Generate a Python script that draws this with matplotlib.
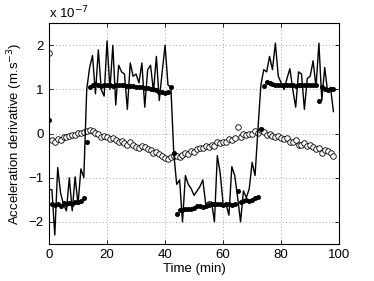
import numpy as np
import matplotlib
matplotlib.use("Agg")
import matplotlib.pyplot as plt

# time in minutes (one sample per minute)
time_min = list(range(99))

# noisy derivative (line), units of 1e-7 m.s^-3
raw = [-1.27, -1.27, -2.3, -0.77, -1.35, -1.6, -1.75, -1.0, -1.75, -0.98,
       -1.6, -0.8, -1.0, 1.0, 1.5, 1.77, 0.9, 1.9, 1.0, 0.85,
       2.1, 1.0, 2.0, 0.65, 1.55, 1.4, 1.35, 0.55, 1.6, 1.3,
       1.35, 1.15, 1.6, 0.6, 1.45, 1.55, 0.95, 1.75, 0.75, 1.4,
       2.0, 1.1, 1.05, -0.45, -1.15, -1.05, -2.0, -0.95, -1.15, -1.25,
       -1.4, -1.3, -1.2, -1.05, -1.6, -1.55, -1.55, -2.0, -0.5, -0.9,
       -1.6, -1.6, -1.85, -0.75, -0.95, -1.45, -2.0, -1.3, -1.45, -1.25,
       -0.65, -0.95, 0.1, 1.1, 1.45, 1.4, 1.75, 1.45, 2.05, 1.3,
       1.15, 1.0, 1.25, 1.47, 1.0, 0.6, 1.4, 1.35, 0.55, 1.25,
       1.3, 1.65, 1.05, 2.05, 0.75, 1.5, 0.95, 1.05, 0.5]

# smoothed estimate (filled dots)
smooth = ([0.3,
           -1.6, -1.62, -1.6, -1.63, -1.58, -1.6, -1.57, -1.6, -1.55, -1.55, -1.52, -1.47,
           -0.18, 1.05,
           1.1, 1.12, 1.1, 1.08, 1.1, 1.1, 1.1, 1.09, 1.1, 1.1, 1.1, 1.1, 1.08, 1.08,
           1.07, 1.06, 1.06, 1.05, 1.03, 1.03, 1.0, 1.0, 0.98, 0.95, 0.95, 0.93, 0.95,
           1.05, -0.45, -1.83,
           -1.73, -1.73, -1.72, -1.7, -1.7, -1.68, -1.65, -1.63, -1.66, -1.65,
           -1.62, -1.6, -1.6, -1.6, -1.6, -1.62, -1.6, -1.6, -1.62, -1.6,
           -1.3,
           -1.55, -1.52, -1.5, -1.52, -1.5, -1.47, -1.43,
           0.1, 1.07,
           1.17, 1.15, 1.12, 1.1, 1.1, 1.1, 1.11, 1.1, 1.1, 1.1, 1.09, 1.1, 1.1, 1.1,
           1.1, 1.1, 1.1, 1.1,
           0.75, 1.05, 1.0, 0.98, 1.0, 1.0])

# residual / bias term (open circles)
resid = [1.82, -0.15, -0.18, -0.12, -0.15, -0.08, -0.07, -0.05, -0.04, -0.03,
         0.02, 0.02, 0.03, 0.06, 0.08, 0.05, 0.02, -0.02, -0.08, -0.05,
         -0.08, -0.12, -0.1, -0.15, -0.2, -0.17, -0.22, -0.25, -0.2, -0.25,
         -0.3, -0.32, -0.28, -0.3, -0.35, -0.38, -0.45, -0.42, -0.47, -0.5,
         -0.55, -0.57, -0.52, -0.5, -0.5, -0.52, -0.48, -0.45, -0.47, -0.4,
         -0.42, -0.35, -0.32, -0.33, -0.28, -0.3, -0.25, -0.27, -0.2, -0.22,
         -0.18, -0.2, -0.12, -0.15, -0.1, 0.14, -0.08, -0.02, -0.03, 0.0,
         -0.02, 0.05, 0.02, 0.08, 0.03, -0.03, 0.0, -0.05, -0.08, -0.05,
         -0.1, -0.12, -0.1, -0.2, -0.18, -0.15, -0.25, -0.25, -0.22, -0.28,
         -0.25, -0.3, -0.35, -0.32, -0.45, -0.38, -0.4, -0.43, -0.5]

x_ticks = [0, 20, 40, 60, 80, 100]
y_ticks = [-2, -1, 0, 1, 2]

plt.rcParams['font.family'] = ['Liberation Sans', 'DejaVu Sans']
fig = plt.figure(figsize=(3.74, 2.81), dpi=100)
ax = fig.add_axes([0.131, 0.132, 0.776, 0.785])

ax.plot(time_min, raw, color='black', lw=1.0, zorder=3)
ax.plot(time_min, smooth, 'o', color='black', ms=3.6, mew=0, zorder=4)
ax.plot(time_min, resid, 'o', mfc='white', mec='black', ms=4.0, mew=0.6, zorder=2)

ax.set_xlim(0, 100)
ax.set_ylim(-2.5, 2.5)
ax.set_xticks(x_ticks)
ax.set_yticks(y_ticks)
ax.set_yticklabels(['\u22122', '\u22121', '0', '1', '2'])
ax.tick_params(direction='in', top=True, right=True, labelsize=9.5, length=3, width=0.6, pad=4)
ax.grid(True, linestyle=(0, (1, 3)), color='#888888', lw=0.6)
for s in ax.spines.values():
    s.set_linewidth(0.8)

ax.set_xlabel('Time (min)', fontsize=9.5, labelpad=1)
ax.set_ylabel('Acceleration derivative (m.s$^{-3}$)', fontsize=9.5, labelpad=2)
fig.text(0.131, 0.925, 'x 10$^{-7}$', fontsize=9.5, ha='left', va='bottom')

fig.savefig('out.png', dpi=100)
